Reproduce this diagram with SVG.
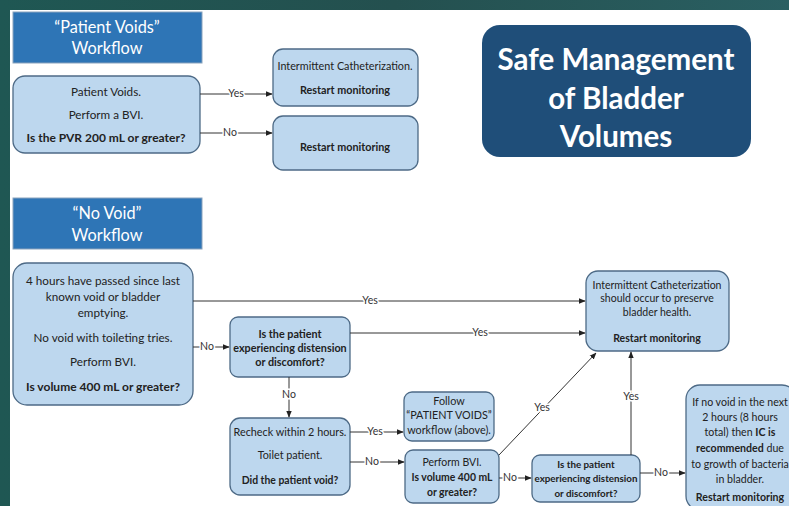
<svg xmlns="http://www.w3.org/2000/svg" width="789" height="506" viewBox="0 0 789 506">
<defs>
<linearGradient id="bg" x1="0" y1="0" x2="1" y2="0">
<stop offset="0" stop-color="#1f5753"/>
<stop offset="0.5" stop-color="#24504f"/>
<stop offset="1" stop-color="#2a5f62"/>
</linearGradient>
<marker id="ah" viewBox="0 0 10 10" refX="9" refY="5" markerWidth="7" markerHeight="7" orient="auto" markerUnits="userSpaceOnUse">
<path d="M0,1 L10,5 L0,9 z" fill="#222"/>
</marker>
<style>
.hdr{fill:#2e75b6;stroke:#8aa3bd;stroke-width:1}
.hdrt{font-family:Lato,"Open Sans",sans-serif;font-size:16.3px;fill:#fff;text-anchor:middle}
.box{fill:#bdd7ee;stroke:#4d6a86;stroke-width:1.3}
.t{font-family:Lato,"Open Sans",sans-serif;font-size:11.7px;fill:#222;text-anchor:middle}
.s{font-size:10.8px}
.b{font-weight:bold}
.ln{stroke:#333;stroke-width:1;fill:none}
.arr{marker-end:url(#ah)}
.lbl{font-family:Lato,"Open Sans",sans-serif;font-size:10.5px;fill:#333;text-anchor:middle;stroke:#fff;stroke-width:3;paint-order:stroke}
.title{font-family:Lato,"Open Sans",sans-serif;font-size:29.5px;font-weight:bold;fill:#fff;text-anchor:middle}
</style>
</defs>
<rect width="789" height="506" fill="url(#bg)"/>
<rect x="10" y="10" width="779" height="496" fill="#ffffff"/>

<g id="pv-header">
<rect class="hdr" x="13" y="12" width="189" height="51"/>
<text class="hdrt" x="107" y="33">“Patient Voids”</text>
<text class="hdrt" x="107" y="54">Workflow</text>
</g>

<g id="pv-start">
<rect class="box" x="13" y="76" width="187" height="77" rx="12"/>
<text class="t" x="106" y="96">Patient Voids.</text>
<text class="t" x="106" y="119">Perform a BVI.</text>
<text class="t b" x="106" y="142" style="font-size:12px">Is the PVR 200 mL or greater?</text>
</g>

<g id="pv-yes">
<rect class="box" x="273" y="49" width="145" height="57" rx="10"/>
<text class="t s" x="345" y="70">Intermittent Catheterization.</text>
<text class="t s b" x="345" y="94">Restart monitoring</text>
</g>

<g id="pv-no">
<rect class="box" x="273" y="116" width="145" height="54" rx="10"/>
<text class="t s b" x="345" y="151">Restart monitoring</text>
</g>

<g id="title">
<rect x="482" y="25" width="269" height="132" rx="18" fill="#1f4e79"/>
<text class="title" x="616" y="70">Safe Management</text>
<text class="title" x="616" y="109">of Bladder</text>
<text class="title" x="616" y="147">Volumes</text>
</g>

<g id="nv-header">
<rect class="hdr" x="13" y="198" width="189" height="51"/>
<text class="hdrt" x="107" y="219">“No Void”</text>
<text class="hdrt" x="107" y="241">Workflow</text>
</g>

<g id="nv-start">
<rect class="box" x="13" y="263" width="180" height="142" rx="14"/>
<text class="t" x="103" y="285">4 hours have passed since last</text>
<text class="t" x="103" y="301">known void or bladder</text>
<text class="t" x="103" y="317">emptying.</text>
<text class="t" x="103" y="342">No void with toileting tries.</text>
<text class="t" x="103" y="366">Perform BVI.</text>
<text class="t b" x="103" y="391" style="font-size:12px">Is volume 400 mL or greater?</text>
</g>

<g id="distension1">
<rect class="box" x="230" y="317" width="120" height="60" rx="8"/>
<text class="t s b" x="290" y="338">Is the patient</text>
<text class="t s b" x="290" y="352">experiencing distension</text>
<text class="t s b" x="290" y="366">or discomfort?</text>
</g>

<g id="ic">
<rect class="box" x="586" y="271" width="143" height="80" rx="12"/>
<text class="t" x="657" y="289" style="font-size:10.5px">Intermittent Catheterization</text>
<text class="t" x="657" y="302" style="font-size:10.5px">should occur to preserve</text>
<text class="t" x="657" y="316" style="font-size:10.5px">bladder health.</text>
<text class="t b" x="657" y="342" style="font-size:10.5px">Restart monitoring</text>
</g>

<g id="recheck">
<rect class="box" x="230" y="418" width="120" height="77" rx="10"/>
<text class="t" x="290" y="436" style="font-size:10.8px">Recheck within 2 hours.</text>
<text class="t" x="290" y="459" style="font-size:10.8px">Toilet patient.</text>
<text class="t b" x="290" y="484" style="font-size:10.4px">Did the patient void?</text>
</g>

<g id="follow">
<rect class="box" x="404" y="392" width="90" height="49" rx="8"/>
<text class="t s" x="449" y="405">Follow</text>
<text class="t s" x="449" y="419">“PATIENT VOIDS”</text>
<text class="t s" x="449" y="434">workflow (above).</text>
</g>

<g id="perform-bvi">
<rect class="box" x="405" y="450" width="94" height="53" rx="8"/>
<text class="t" x="452" y="466" style="font-size:10.5px">Perform BVI.</text>
<text class="t b" x="452" y="481" style="font-size:10.4px">Is volume 400 mL</text>
<text class="t b" x="452" y="496" style="font-size:10.4px">or greater?</text>
</g>

<g id="distension2">
<rect class="box" x="532" y="455" width="108" height="47" rx="8"/>
<text class="t b" x="586" y="468" style="font-size:9.8px">Is the patient</text>
<text class="t b" x="586" y="482" style="font-size:9.8px">experiencing distension</text>
<text class="t b" x="586" y="497" style="font-size:9.8px">or discomfort?</text>
</g>

<g id="no-void-8h">
<rect class="box" x="686" y="385" width="110" height="125" rx="14"/>
<text class="t" x="740" y="406" style="font-size:10.6px">If no void in the next</text>
<text class="t" x="740" y="421" style="font-size:10.6px">2 hours (8 hours</text>
<text class="t" x="740" y="436" style="font-size:10.6px">total) then <tspan class="b">IC is</tspan></text>
<text class="t" x="740" y="452" style="font-size:10.6px"><tspan class="b">recommended</tspan> due</text>
<text class="t" x="740" y="468" style="font-size:10.6px">to growth of bacteria</text>
<text class="t" x="740" y="483" style="font-size:10.6px">in bladder.</text>
<text class="t b" x="740" y="501" style="font-size:10.6px">Restart monitoring</text>
</g>

<g id="connectors">
<line class="ln arr" x1="200" y1="94" x2="272" y2="94"/>
<text class="lbl" x="236" y="97">Yes</text>
<line class="ln arr" x1="200" y1="133" x2="272" y2="133"/>
<text class="lbl" x="230" y="136">No</text>

<line class="ln arr" x1="193" y1="301" x2="585" y2="301"/>
<text class="lbl" x="370" y="304">Yes</text>
<line class="ln arr" x1="193" y1="347" x2="229" y2="347"/>
<text class="lbl" x="207" y="350">No</text>
<line class="ln arr" x1="350" y1="333" x2="585" y2="333"/>
<text class="lbl" x="480" y="336">Yes</text>

<line class="ln arr" x1="289" y1="377" x2="289" y2="417"/>
<text class="lbl" x="289" y="398">No</text>

<line class="ln arr" x1="350" y1="432" x2="403" y2="432"/>
<text class="lbl" x="375" y="435">Yes</text>
<line class="ln arr" x1="350" y1="462" x2="404" y2="462"/>
<text class="lbl" x="372" y="465">No</text>

<line class="ln arr" x1="499" y1="455" x2="596" y2="353"/>
<text class="lbl" x="542" y="411">Yes</text>
<line class="ln arr" x1="499" y1="478" x2="531" y2="478"/>
<text class="lbl" x="510" y="481">No</text>

<line class="ln arr" x1="631" y1="455" x2="631" y2="352"/>
<text class="lbl" x="631" y="400">Yes</text>
<line class="ln arr" x1="640" y1="473" x2="685" y2="473"/>
<text class="lbl" x="661" y="476">No</text>
</g>
</svg>
